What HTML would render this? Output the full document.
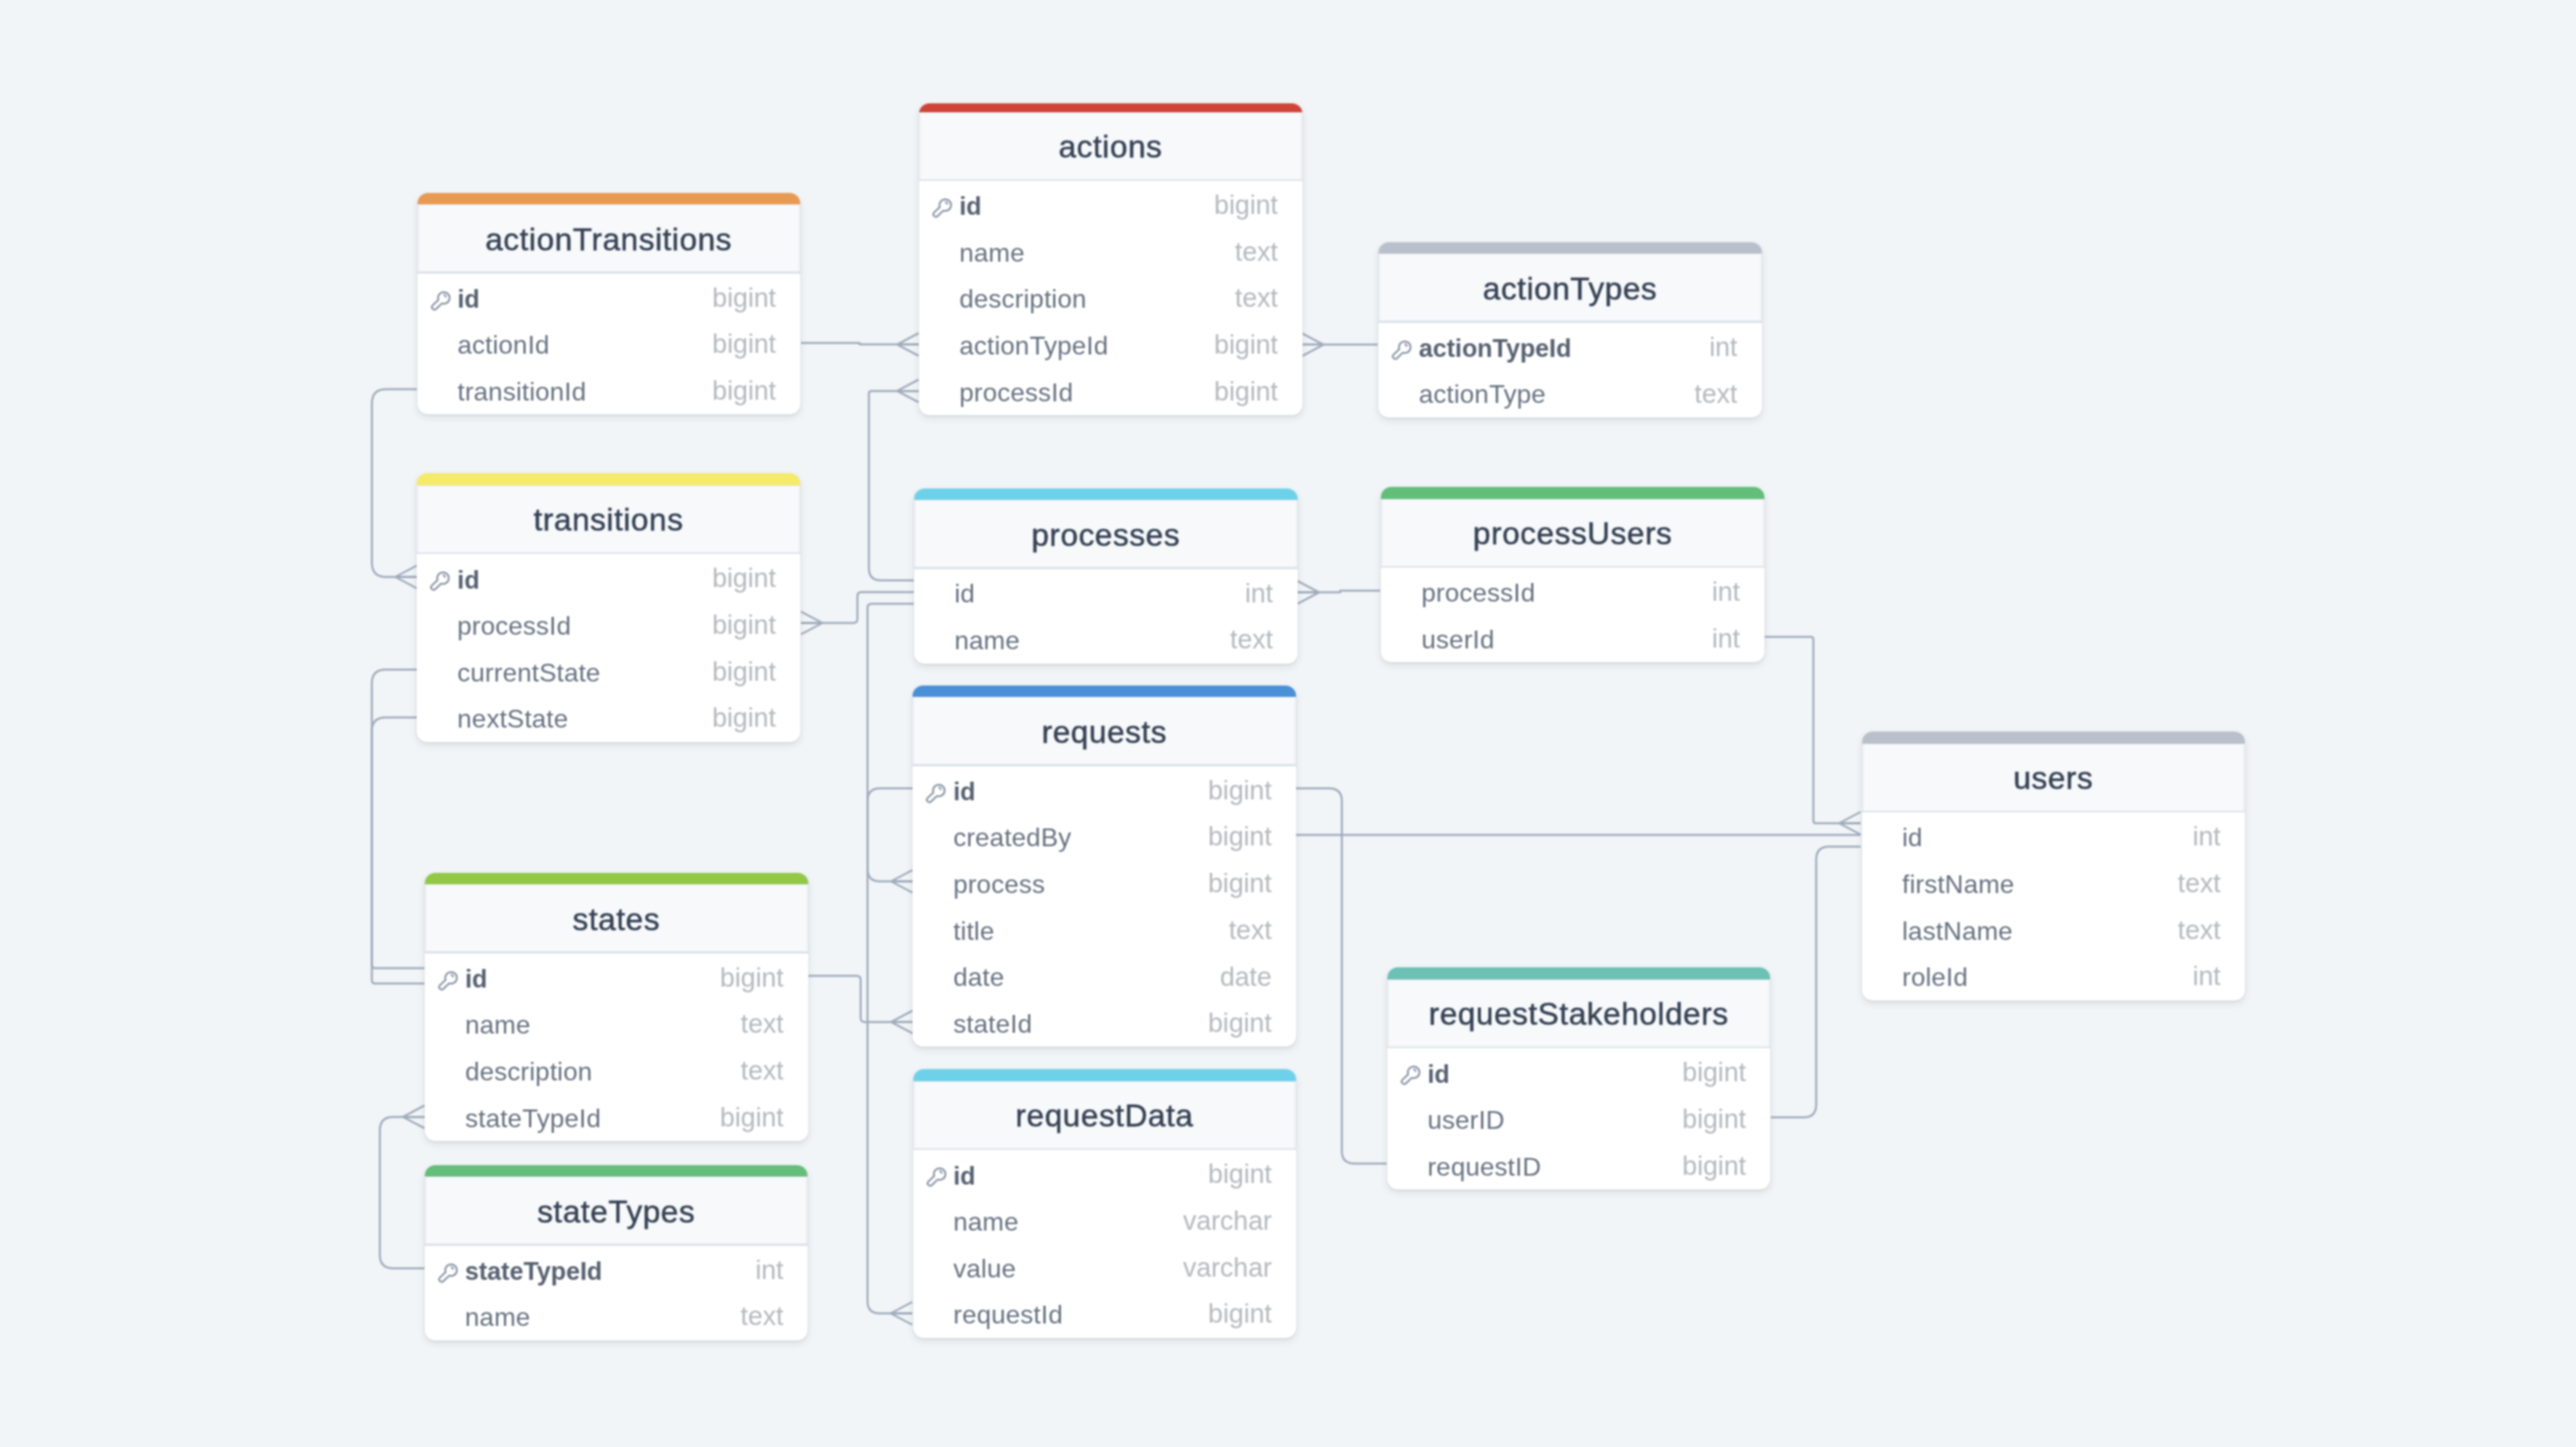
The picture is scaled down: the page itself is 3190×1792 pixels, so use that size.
<!DOCTYPE html>
<html><head><meta charset="utf-8"><title>diagram</title>
<style>
html,body{margin:0;padding:0}
body{width:3190px;height:1792px;background:#f1f5f8;position:relative;overflow:hidden;font-family:"Liberation Sans",Arial,sans-serif}
svg.lines{position:absolute;left:0;top:0}
.t{position:absolute;width:474.5px;background:#fff;border-radius:13px;box-shadow:0 4px 10px rgba(45,52,62,.11),0 1px 3px rgba(45,52,62,.09);overflow:hidden}
.bar{position:absolute;left:0;right:0;top:0}
.hd{position:absolute;left:0;right:0;height:84.0px;background:#f7f9fb;border-left:2px solid #eceff3;border-right:2px solid #eceff3;border-top:1.5px solid #e4e8ed;box-sizing:border-box}
.ttl{position:absolute;left:0;right:0;text-align:center;font-size:39px;letter-spacing:0.72px;line-height:0;color:#354153;white-space:nowrap;-webkit-text-stroke:0.55px #354153}
.sep{position:absolute;left:0;right:0;height:2.5px;background:#dce3ea}
.cn{position:absolute;left:50px;font-size:32px;letter-spacing:0.25px;line-height:0;color:#667180;white-space:nowrap}
.cn.pk{font-weight:700;font-size:31px;letter-spacing:0;color:#566070}
.ct{position:absolute;right:30px;font-size:33px;line-height:0;color:#b5b8bd;white-space:nowrap}
.key{position:absolute;left:16px;width:26px;height:26px}
.k{display:block}
</style></head><body>
<div id="c" style="position:absolute;left:0;top:0;width:3190px;height:1792px;background:#f1f5f8;filter:blur(0.8px)">
<svg class="lines" width="3190" height="1792" viewBox="0 0 3190 1792"><g fill="none" stroke="#a0abbb" stroke-width="2.5" stroke-linecap="butt" stroke-linejoin="round">
<path d="M992 424.8H1064.6V426.6H1137.5"/>
<path d="M1111.0 426.6L1137.5 412.6M1111.0 426.6L1137.5 440.6M1111.0 426.6L1137.5 426.6"/>
<path d="M1137.5 484.2H1079Q1076 484.2 1076 487.2V703.7Q1076 718.7 1091 718.7H1131.5"/>
<path d="M1111.0 484.2L1137.5 470.2M1111.0 484.2L1137.5 498.2M1111.0 484.2L1137.5 484.2"/>
<path d="M516 482H478Q460.6 482 460.6 499.4V697Q460.6 714.5 478 714.5H516"/>
<path d="M489.5 714.5L516 700.5M489.5 714.5L516 728.5M489.5 714.5L516 714.5"/>
<path d="M516 829.3H477.5Q460.5 829.3 460.5 846.3V1195Q460.5 1199 464.5 1199H525.5"/>
<path d="M516 888.5H477.5Q460.5 888.5 460.5 905.5V1214Q460.5 1218 464.5 1218H525.5"/>
<path d="M525.5 1383.2H487Q470.4 1383.2 470.4 1399.8V1554Q470.4 1570.7 487 1570.7H525.5"/>
<path d="M499.0 1383.2L525.5 1369.2M499.0 1383.2L525.5 1397.2M499.0 1383.2L525.5 1383.2"/>
<path d="M992 771.5H1056.8Q1061.8 771.5 1061.8 766.5V738.2Q1061.8 733.2 1066.8 733.2H1131.5"/>
<path d="M1018.5 771.5L992 757.5M1018.5 771.5L992 785.5M1018.5 771.5L992 771.5"/>
<path d="M1131.5 747.8H1079.3Q1074.3 747.8 1074.3 752.8V1611.5Q1074.3 1626.5 1089.3 1626.5H1129.5"/>
<path d="M1103.0 1626.5L1129.5 1612.5M1103.0 1626.5L1129.5 1640.5M1103.0 1626.5L1129.5 1626.5"/>
<path d="M1130 976.2H1090Q1074.3 976.2 1074.3 992V1076Q1074.3 1091.5 1090 1091.5H1130"/>
<path d="M1103.5 1091.5L1130 1077.5M1103.5 1091.5L1130 1105.5M1103.5 1091.5L1130 1091.5"/>
<path d="M1001 1208.5H1060.8Q1065.8 1208.5 1065.8 1213.5V1260.7Q1065.8 1265.7 1070.8 1265.7H1130"/>
<path d="M1103.5 1265.7L1130 1251.7M1103.5 1265.7L1130 1279.7M1103.5 1265.7L1130 1265.7"/>
<path d="M1612.5 426.8H1706"/>
<path d="M1639.0 426.8L1612.5 412.8M1639.0 426.8L1612.5 440.8M1639.0 426.8L1612.5 426.8"/>
<path d="M1607 733.6H1659.7V731.6H1709"/>
<path d="M1633.5 733.6L1607 719.6M1633.5 733.6L1607 747.6M1633.5 733.6L1607 733.6"/>
<path d="M2185.5 788.7H2242.6Q2245.6 788.7 2245.6 791.7V1016.5Q2245.6 1019.5 2248.6 1019.5H2304"/>
<path d="M2277.5 1019.5L2304 1005.5M2277.5 1019.5L2304 1033.5M2277.5 1019.5L2304 1019.5"/>
<path d="M1605 1033.9H2304"/>
<path d="M2304 1048.6H2265Q2249.1 1048.6 2249.1 1064.5V1368Q2249.1 1383.8 2233.3 1383.8H2193"/>
<path d="M1605 976.2H1645.6Q1661.7 976.2 1661.7 992.2V1425.5Q1661.7 1440.9 1677 1440.9H1717"/>
</g></svg>
<div class="t" style="left:1138.0px;top:127.5px;height:386.5px">
<div class="bar" style="height:11.0px;background:#d04438"></div>
<div class="hd" style="top:11.0px"><span class="ttl" style="top:42.5px">actions</span></div>
<div class="sep" style="top:94.0px"></div>
<div class="key" style="top:116.6px"><svg class="k" viewBox="0 0 26 26" width="26" height="26"><path d="M9.86 12.36A7.15 7.15 0 1 1 14.24 16.74L7.04 23.64A3.1 3.1 0 0 1 2.66 19.26Z" fill="none" stroke="#8d97a6" stroke-width="2.3" stroke-linejoin="round"/><path d="M17.0 6.4A2.4 2.4 0 0 1 19.0 8.6" fill="none" stroke="#8d97a6" stroke-width="2.1" stroke-linecap="round"/></svg></div>
<span class="cn pk" style="top:128.9px">id</span>
<span class="ct" style="top:126.5px">bigint</span>
<span class="cn" style="top:185.0px">name</span>
<span class="ct" style="top:184.2px">text</span>
<span class="cn" style="top:242.7px">description</span>
<span class="ct" style="top:241.9px">text</span>
<span class="cn" style="top:300.4px">actionTypeId</span>
<span class="ct" style="top:299.6px">bigint</span>
<span class="cn" style="top:358.1px">processId</span>
<span class="ct" style="top:357.3px">bigint</span>
</div>
<div class="t" style="left:516.5px;top:238.5px;height:274.7px">
<div class="bar" style="height:14.6px;background:#e89a52"></div>
<div class="hd" style="top:14.6px"><span class="ttl" style="top:42.5px">actionTransitions</span></div>
<div class="sep" style="top:97.6px"></div>
<div class="key" style="top:120.2px"><svg class="k" viewBox="0 0 26 26" width="26" height="26"><path d="M9.86 12.36A7.15 7.15 0 1 1 14.24 16.74L7.04 23.64A3.1 3.1 0 0 1 2.66 19.26Z" fill="none" stroke="#8d97a6" stroke-width="2.3" stroke-linejoin="round"/><path d="M17.0 6.4A2.4 2.4 0 0 1 19.0 8.6" fill="none" stroke="#8d97a6" stroke-width="2.1" stroke-linecap="round"/></svg></div>
<span class="cn pk" style="top:132.5px">id</span>
<span class="ct" style="top:130.1px">bigint</span>
<span class="cn" style="top:188.6px">actionId</span>
<span class="ct" style="top:187.8px">bigint</span>
<span class="cn" style="top:246.3px">transitionId</span>
<span class="ct" style="top:245.5px">bigint</span>
</div>
<div class="t" style="left:1707.0px;top:300.3px;height:216.5px">
<div class="bar" style="height:14.1px;background:#b9c0cb"></div>
<div class="hd" style="top:14.1px"><span class="ttl" style="top:42.5px">actionTypes</span></div>
<div class="sep" style="top:97.1px"></div>
<div class="key" style="top:119.7px"><svg class="k" viewBox="0 0 26 26" width="26" height="26"><path d="M9.86 12.36A7.15 7.15 0 1 1 14.24 16.74L7.04 23.64A3.1 3.1 0 0 1 2.66 19.26Z" fill="none" stroke="#8d97a6" stroke-width="2.3" stroke-linejoin="round"/><path d="M17.0 6.4A2.4 2.4 0 0 1 19.0 8.6" fill="none" stroke="#8d97a6" stroke-width="2.1" stroke-linecap="round"/></svg></div>
<span class="cn pk" style="top:132.0px">actionTypeId</span>
<span class="ct" style="top:129.6px">int</span>
<span class="cn" style="top:188.1px">actionType</span>
<span class="ct" style="top:187.3px">text</span>
</div>
<div class="t" style="left:516.3px;top:586.3px;height:332.4px">
<div class="bar" style="height:14.6px;background:#f5ea6a"></div>
<div class="hd" style="top:14.6px"><span class="ttl" style="top:42.5px">transitions</span></div>
<div class="sep" style="top:97.6px"></div>
<div class="key" style="top:120.2px"><svg class="k" viewBox="0 0 26 26" width="26" height="26"><path d="M9.86 12.36A7.15 7.15 0 1 1 14.24 16.74L7.04 23.64A3.1 3.1 0 0 1 2.66 19.26Z" fill="none" stroke="#8d97a6" stroke-width="2.3" stroke-linejoin="round"/><path d="M17.0 6.4A2.4 2.4 0 0 1 19.0 8.6" fill="none" stroke="#8d97a6" stroke-width="2.1" stroke-linecap="round"/></svg></div>
<span class="cn pk" style="top:132.5px">id</span>
<span class="ct" style="top:130.1px">bigint</span>
<span class="cn" style="top:188.6px">processId</span>
<span class="ct" style="top:187.8px">bigint</span>
<span class="cn" style="top:246.3px">currentState</span>
<span class="ct" style="top:245.5px">bigint</span>
<span class="cn" style="top:304.0px">nextState</span>
<span class="ct" style="top:303.2px">bigint</span>
</div>
<div class="t" style="left:1132.0px;top:604.5px;height:217.0px">
<div class="bar" style="height:14.6px;background:#6ed1ea"></div>
<div class="hd" style="top:14.6px"><span class="ttl" style="top:42.5px">processes</span></div>
<div class="sep" style="top:97.6px"></div>
<span class="cn" style="top:130.9px">id</span>
<span class="ct" style="top:130.1px">int</span>
<span class="cn" style="top:188.6px">name</span>
<span class="ct" style="top:187.8px">text</span>
</div>
<div class="t" style="left:1710.3px;top:603.0px;height:217.0px">
<div class="bar" style="height:14.6px;background:#63be7a"></div>
<div class="hd" style="top:14.6px"><span class="ttl" style="top:42.5px">processUsers</span></div>
<div class="sep" style="top:97.6px"></div>
<span class="cn" style="top:130.9px">processId</span>
<span class="ct" style="top:130.1px">int</span>
<span class="cn" style="top:188.6px">userId</span>
<span class="ct" style="top:187.8px">int</span>
</div>
<div class="t" style="left:1130.4px;top:848.7px;height:447.8px">
<div class="bar" style="height:14.6px;background:#4a90d9"></div>
<div class="hd" style="top:14.6px"><span class="ttl" style="top:42.5px">requests</span></div>
<div class="sep" style="top:97.6px"></div>
<div class="key" style="top:120.2px"><svg class="k" viewBox="0 0 26 26" width="26" height="26"><path d="M9.86 12.36A7.15 7.15 0 1 1 14.24 16.74L7.04 23.64A3.1 3.1 0 0 1 2.66 19.26Z" fill="none" stroke="#8d97a6" stroke-width="2.3" stroke-linejoin="round"/><path d="M17.0 6.4A2.4 2.4 0 0 1 19.0 8.6" fill="none" stroke="#8d97a6" stroke-width="2.1" stroke-linecap="round"/></svg></div>
<span class="cn pk" style="top:132.5px">id</span>
<span class="ct" style="top:130.1px">bigint</span>
<span class="cn" style="top:188.6px">createdBy</span>
<span class="ct" style="top:187.8px">bigint</span>
<span class="cn" style="top:246.3px">process</span>
<span class="ct" style="top:245.5px">bigint</span>
<span class="cn" style="top:304.0px">title</span>
<span class="ct" style="top:303.2px">text</span>
<span class="cn" style="top:361.7px">date</span>
<span class="ct" style="top:360.9px">date</span>
<span class="cn" style="top:419.4px">stateId</span>
<span class="ct" style="top:418.6px">bigint</span>
</div>
<div class="t" style="left:2305.5px;top:906.3px;height:332.4px">
<div class="bar" style="height:14.6px;background:#b9c0cb"></div>
<div class="hd" style="top:14.6px"><span class="ttl" style="top:42.5px">users</span></div>
<div class="sep" style="top:97.6px"></div>
<span class="cn" style="top:130.9px">id</span>
<span class="ct" style="top:130.1px">int</span>
<span class="cn" style="top:188.6px">firstName</span>
<span class="ct" style="top:187.8px">text</span>
<span class="cn" style="top:246.3px">lastName</span>
<span class="ct" style="top:245.5px">text</span>
<span class="cn" style="top:304.0px">roleId</span>
<span class="ct" style="top:303.2px">int</span>
</div>
<div class="t" style="left:526.0px;top:1080.5px;height:332.4px">
<div class="bar" style="height:14.6px;background:#92c846"></div>
<div class="hd" style="top:14.6px"><span class="ttl" style="top:42.5px">states</span></div>
<div class="sep" style="top:97.6px"></div>
<div class="key" style="top:120.2px"><svg class="k" viewBox="0 0 26 26" width="26" height="26"><path d="M9.86 12.36A7.15 7.15 0 1 1 14.24 16.74L7.04 23.64A3.1 3.1 0 0 1 2.66 19.26Z" fill="none" stroke="#8d97a6" stroke-width="2.3" stroke-linejoin="round"/><path d="M17.0 6.4A2.4 2.4 0 0 1 19.0 8.6" fill="none" stroke="#8d97a6" stroke-width="2.1" stroke-linecap="round"/></svg></div>
<span class="cn pk" style="top:132.5px">id</span>
<span class="ct" style="top:130.1px">bigint</span>
<span class="cn" style="top:188.6px">name</span>
<span class="ct" style="top:187.8px">text</span>
<span class="cn" style="top:246.3px">description</span>
<span class="ct" style="top:245.5px">text</span>
<span class="cn" style="top:304.0px">stateTypeId</span>
<span class="ct" style="top:303.2px">bigint</span>
</div>
<div class="t" style="left:1717.7px;top:1198.3px;height:274.7px">
<div class="bar" style="height:14.6px;background:#6cc0b4"></div>
<div class="hd" style="top:14.6px"><span class="ttl" style="top:42.5px">requestStakeholders</span></div>
<div class="sep" style="top:97.6px"></div>
<div class="key" style="top:120.2px"><svg class="k" viewBox="0 0 26 26" width="26" height="26"><path d="M9.86 12.36A7.15 7.15 0 1 1 14.24 16.74L7.04 23.64A3.1 3.1 0 0 1 2.66 19.26Z" fill="none" stroke="#8d97a6" stroke-width="2.3" stroke-linejoin="round"/><path d="M17.0 6.4A2.4 2.4 0 0 1 19.0 8.6" fill="none" stroke="#8d97a6" stroke-width="2.1" stroke-linecap="round"/></svg></div>
<span class="cn pk" style="top:132.5px">id</span>
<span class="ct" style="top:130.1px">bigint</span>
<span class="cn" style="top:188.6px">userID</span>
<span class="ct" style="top:187.8px">bigint</span>
<span class="cn" style="top:246.3px">requestID</span>
<span class="ct" style="top:245.5px">bigint</span>
</div>
<div class="t" style="left:525.8px;top:1442.6px;height:217.0px">
<div class="bar" style="height:14.6px;background:#63be7a"></div>
<div class="hd" style="top:14.6px"><span class="ttl" style="top:42.5px">stateTypes</span></div>
<div class="sep" style="top:97.6px"></div>
<div class="key" style="top:120.2px"><svg class="k" viewBox="0 0 26 26" width="26" height="26"><path d="M9.86 12.36A7.15 7.15 0 1 1 14.24 16.74L7.04 23.64A3.1 3.1 0 0 1 2.66 19.26Z" fill="none" stroke="#8d97a6" stroke-width="2.3" stroke-linejoin="round"/><path d="M17.0 6.4A2.4 2.4 0 0 1 19.0 8.6" fill="none" stroke="#8d97a6" stroke-width="2.1" stroke-linecap="round"/></svg></div>
<span class="cn pk" style="top:132.5px">stateTypeId</span>
<span class="ct" style="top:130.1px">int</span>
<span class="cn" style="top:188.6px">name</span>
<span class="ct" style="top:187.8px">text</span>
</div>
<div class="t" style="left:1130.5px;top:1324.3px;height:332.4px">
<div class="bar" style="height:14.6px;background:#6ed1ea"></div>
<div class="hd" style="top:14.6px"><span class="ttl" style="top:42.5px">requestData</span></div>
<div class="sep" style="top:97.6px"></div>
<div class="key" style="top:120.2px"><svg class="k" viewBox="0 0 26 26" width="26" height="26"><path d="M9.86 12.36A7.15 7.15 0 1 1 14.24 16.74L7.04 23.64A3.1 3.1 0 0 1 2.66 19.26Z" fill="none" stroke="#8d97a6" stroke-width="2.3" stroke-linejoin="round"/><path d="M17.0 6.4A2.4 2.4 0 0 1 19.0 8.6" fill="none" stroke="#8d97a6" stroke-width="2.1" stroke-linecap="round"/></svg></div>
<span class="cn pk" style="top:132.5px">id</span>
<span class="ct" style="top:130.1px">bigint</span>
<span class="cn" style="top:188.6px">name</span>
<span class="ct" style="top:187.8px">varchar</span>
<span class="cn" style="top:246.3px">value</span>
<span class="ct" style="top:245.5px">varchar</span>
<span class="cn" style="top:304.0px">requestId</span>
<span class="ct" style="top:303.2px">bigint</span>
</div>
</div></body></html>
